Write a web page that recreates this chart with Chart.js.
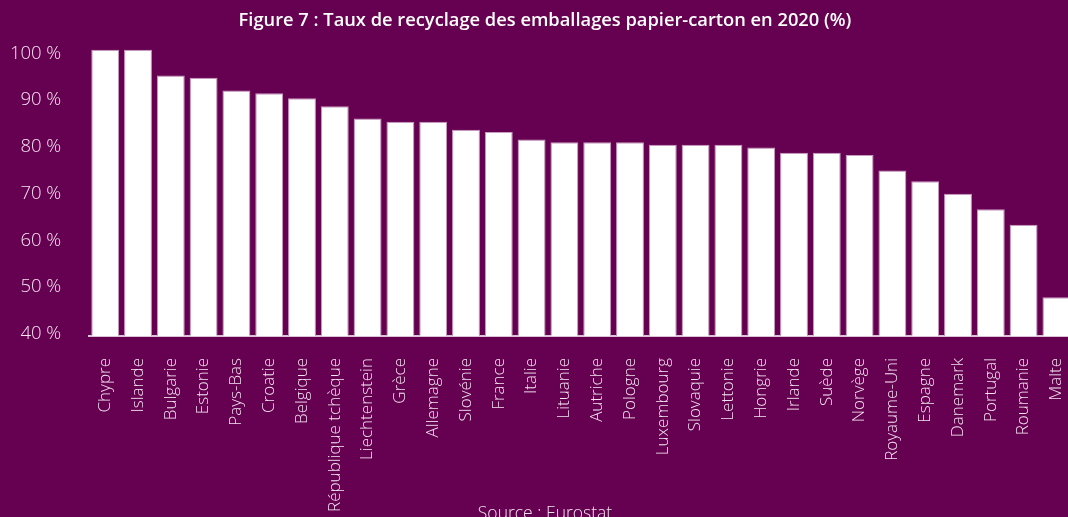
<!DOCTYPE html>
<html><head><meta charset="utf-8">
<script src="https://cdn.jsdelivr.net/npm/chart.js@4/dist/chart.umd.min.js"></script>
<style>
html,body{margin:0;padding:0;background:#660050;overflow:hidden;}
#wrap{position:relative;width:1068px;height:517px;overflow:hidden;}
#c{position:absolute;left:0;top:0;}
#src{position:absolute;left:0;width:1090px;top:500px;text-align:center;color:#f3e3f0;font-family:'Open Sans',sans-serif;font-weight:300;font-size:17.5px;white-space:nowrap;}
</style></head>
<body><div id="wrap"><canvas id="c" width="1090" height="517"></canvas><div id="src">Source : Eurostat</div></div>
<script>
const categories = ["Chypre","Islande","Bulgarie","Estonie","Pays-Bas","Croatie","Belgique","République tchèque","Liechtenstein","Grèce","Allemagne","Slovénie","France","Italie","Lituanie","Autriche","Pologne","Luxembourg","Slovaquie","Lettonie","Hongrie","Irlande","Suède","Norvège","Royaume-Uni","Espagne","Danemark","Portugal","Roumanie","Malte"];
const values = [101.2,101.2,95.7,95.2,92.5,91.9,90.8,89.1,86.5,85.8,85.8,84.1,83.6,82.0,81.4,81.4,81.4,80.9,80.9,80.9,80.3,79.2,79.2,78.7,75.4,73.1,70.4,67.1,63.8,48.3];
const yTicks = [40,50,60,70,80,90,100];
const title = "Figure 7 : Taux de recyclage des emballages papier-carton en 2020 (%)";

new Chart(document.getElementById('c'), {
  type: 'bar',
  data: { labels: categories, datasets: [{ data: values, backgroundColor: '#ffffff', borderColor: '#c89cc0', borderWidth: 1, barPercentage: 0.85, categoryPercentage: 1 }] },
  options: {
    responsive: false, animation: false,
    layout: { padding: { top: 0, right: 0, left: 0, bottom: 0 } },
    plugins: {
      legend: { display: false }, tooltip: { enabled: false },
      title: { display: true, text: title, color: '#ffffff', font: { family: "'Open Sans'", size: 18.3, weight: '600', lineHeight: 1.2 }, padding: { top: 9.5, bottom: 8.9 } }
    },
    scales: {
      x: {
        grid: { display: false, drawTicks: false },
        border: { display: true, color: '#dcc4d8', width: 2 },
        ticks: { color: '#f3e3f0', font: { family: "'Open Sans'", size: 17, weight: '300' }, minRotation: 90, maxRotation: 90, autoSkip: false, padding: 22 },
        afterFit: s => { s.height = 181; s.paddingLeft = 0; s.paddingRight = 0; }
      },
      y: {
        min: 40, max: 103.2,
        grid: { display: false, drawTicks: false },
        border: { display: false },
        afterBuildTicks: s => { s.ticks = yTicks.map(v => ({ value: v })); },
        ticks: { color: '#f3e3f0', font: { family: "'Open Sans'", size: 18.5, weight: '300' }, padding: 27.5, labelOffset: -2, callback: v => v + ' %' },
        afterFit: s => { s.width = 88.8; s.paddingTop = 0; s.paddingBottom = 0; }
      },
      yRight: {
        type: 'linear', position: 'right', display: true,
        grid: { display: false, drawTicks: false },
        border: { display: false },
        ticks: { display: false },
        afterFit: s => { s.width = 17.2; s.paddingTop = 0; s.paddingBottom = 0; }
      }
    }
  }
});
</script></body></html>
